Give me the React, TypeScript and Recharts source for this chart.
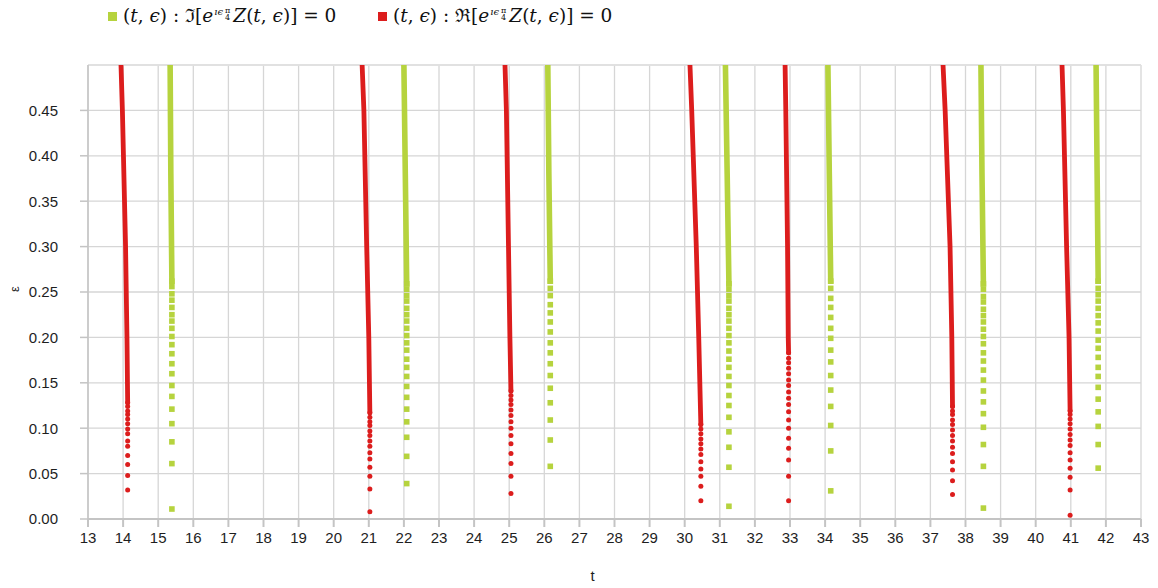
import { ScatterChart, Scatter, XAxis, YAxis, CartesianGrid, ReferenceLine } from 'recharts'

const RED = '#dc1d1d'
const GREEN = '#b6d33e'

const tTicks = [13, 14, 15, 16, 17, 18, 19, 20, 21, 22, 23, 24, 25, 26, 27, 28, 29, 30, 31, 32, 33, 34, 35, 36, 37, 38, 39, 40, 41, 42, 43]
const epsTicks = [0, 0.05, 0.1, 0.15, 0.2, 0.25, 0.3, 0.35, 0.4, 0.45]

// Re = 0 branches (red): t of the sparse dots near the bottom, and their ε values
const redBottomT = [14.13, 21.03, 25.05, 30.46, 32.96, 37.63, 40.98]
const redDotEps = [
  [0.032, 0.048, 0.06, 0.07, 0.08, 0.086, 0.094, 0.099, 0.105, 0.11, 0.115, 0.119, 0.124, 0.128],
  [0.008, 0.033, 0.047, 0.057, 0.066, 0.073, 0.08, 0.086, 0.092, 0.097, 0.103, 0.107, 0.112, 0.117],
  [0.028, 0.047, 0.061, 0.072, 0.083, 0.092, 0.1, 0.107, 0.114, 0.12, 0.126, 0.131, 0.136, 0.141],
  [0.02, 0.036, 0.047, 0.055, 0.063, 0.071, 0.077, 0.083, 0.088, 0.094, 0.099, 0.104],
  [0.02, 0.047, 0.065, 0.078, 0.089, 0.1, 0.109, 0.118, 0.126, 0.133, 0.14, 0.147, 0.153, 0.16, 0.166, 0.172, 0.177, 0.183],
  [0.027, 0.042, 0.054, 0.063, 0.072, 0.079, 0.086, 0.092, 0.098, 0.104, 0.109, 0.115, 0.119, 0.124],
  [0.004, 0.032, 0.046, 0.056, 0.065, 0.073, 0.081, 0.087, 0.093, 0.099, 0.105, 0.11, 0.115, 0.119],
]
// dense part of each red branch, where the dots merge: [t, ε]
const redDense = [
  [[14.13, 0.128], [14.11, 0.2], [14.07, 0.3], [13.98, 0.45], [13.94, 0.5]],
  [[21.03, 0.117], [21.0, 0.2], [20.94, 0.3], [20.86, 0.45], [20.81, 0.5]],
  [[25.05, 0.141], [25.02, 0.2], [24.98, 0.3], [24.92, 0.45], [24.88, 0.5]],
  [[30.46, 0.104], [30.4, 0.2], [30.33, 0.3], [30.2, 0.45], [30.15, 0.5]],
  [[32.96, 0.183], [32.95, 0.2], [32.93, 0.3], [32.88, 0.45], [32.86, 0.5]],
  [[37.63, 0.124], [37.61, 0.2], [37.56, 0.3], [37.42, 0.45], [37.36, 0.5]],
  [[40.98, 0.119], [40.95, 0.2], [40.88, 0.3], [40.79, 0.45], [40.75, 0.5]],
]

// Im = 0 branches (green)
const greenBottomT = [15.39, 22.08, 26.17, 31.26, 34.16, 38.51, 41.78]
const greenDotEps = [
  [0.011, 0.061, 0.085, 0.105, 0.121, 0.135, 0.147, 0.16, 0.171, 0.182, 0.192, 0.201, 0.21, 0.218, 0.225, 0.233, 0.241, 0.248, 0.256, 0.262],
  [0.039, 0.069, 0.09, 0.107, 0.121, 0.134, 0.146, 0.157, 0.167, 0.176, 0.186, 0.194, 0.202, 0.21, 0.218, 0.225, 0.232, 0.24, 0.246, 0.253, 0.259],
  [0.058, 0.087, 0.109, 0.128, 0.144, 0.158, 0.171, 0.183, 0.194, 0.206, 0.217, 0.227, 0.236, 0.246, 0.254, 0.262],
  [0.014, 0.057, 0.079, 0.096, 0.112, 0.125, 0.136, 0.147, 0.157, 0.167, 0.176, 0.185, 0.194, 0.202, 0.21, 0.218, 0.225, 0.232, 0.24, 0.246, 0.253, 0.259],
  [0.031, 0.075, 0.103, 0.124, 0.142, 0.158, 0.173, 0.186, 0.199, 0.21, 0.222, 0.233, 0.243, 0.254, 0.262],
  [0.012, 0.058, 0.082, 0.101, 0.116, 0.129, 0.141, 0.153, 0.164, 0.174, 0.183, 0.193, 0.201, 0.209, 0.217, 0.224, 0.231, 0.239, 0.245, 0.253, 0.259],
  [0.056, 0.082, 0.102, 0.118, 0.132, 0.145, 0.157, 0.167, 0.178, 0.188, 0.197, 0.207, 0.216, 0.224, 0.232, 0.24, 0.247, 0.254, 0.262],
]
const greenDense = [
  [[15.39, 0.262], [15.36, 0.38], [15.34, 0.5]],
  [[22.08, 0.259], [22.04, 0.38], [22.0, 0.5]],
  [[26.17, 0.262], [26.13, 0.38], [26.1, 0.5]],
  [[31.26, 0.259], [31.21, 0.38], [31.16, 0.5]],
  [[34.16, 0.262], [34.12, 0.38], [34.08, 0.5]],
  [[38.51, 0.259], [38.47, 0.38], [38.44, 0.5]],
  [[41.78, 0.262], [41.75, 0.38], [41.72, 0.5]],
]

const toDots = (t: number, eps: number[]) => eps.map((e) => ({ t, eps: e }))
const toPath = (pts: number[][]) => pts.map(([t, e]) => ({ t, eps: e }))

const RedDot = (p: any) => <circle cx={p.cx} cy={p.cy} r={2.5} fill={RED} />
const GreenDot = (p: any) => <rect x={p.cx - 2.8} y={p.cy - 2.8} width={5.6} height={5.6} fill={GREEN} />
const NoDot = () => <g />

const axisTick = { fontSize: 15, fill: '#1e1e1e', fontFamily: '"Liberation Sans", Arial, sans-serif' }

function LegendText({ op }: { op: string }) {
  return (
    <span style={{ display: 'inline-flex', alignItems: 'center', lineHeight: 1 }}>
      <span>
        (<i>t</i>, <i>ϵ</i>) : {op}[<i>e</i>
      </span>
      <span style={{ display: 'inline-flex', alignItems: 'flex-start', alignSelf: 'flex-start', fontSize: 10, margin: '0 3px 0 1px' }}>
        <i>ıϵ</i>
        <span style={{ display: 'inline-flex', flexDirection: 'column', alignItems: 'center', fontSize: 8, lineHeight: 0.9, marginLeft: 2 }}>
          <span>π</span>
          <span>4</span>
        </span>
      </span>
      <span>
        <i>Z</i>(<i>t</i>, <i>ϵ</i>)] = 0
      </span>
    </span>
  )
}

const legendItem = {
  position: 'absolute' as const,
  top: -4,
  height: 24,
  display: 'flex',
  alignItems: 'center',
  fontFamily: '"DejaVu Serif", "Liberation Serif", serif',
  fontSize: 18.5,
  color: '#111',
  whiteSpace: 'nowrap' as const,
}

export default function App() {
  return (
    <div style={{ position: 'relative', width: 1150, height: 580 }}>
      <div style={{ ...legendItem, left: 100 }}>
        <span style={{ width: 9, height: 9, background: GREEN, marginRight: 6, display: 'inline-block' }} />
        <LegendText op="ℑ" />
      </div>
      <div style={{ ...legendItem, left: 370 }}>
        <span style={{ width: 9, height: 9, background: RED, marginRight: 6, display: 'inline-block' }} />
        <LegendText op="ℜ" />
      </div>
      <ScatterChart width={1150} height={580} margin={{ top: 57, right: 17, bottom: 5, left: 0 }}>
        <CartesianGrid stroke="#d6d6d6" strokeWidth={1.3} />
        <ReferenceLine y={0.5} stroke="#e2e2e2" strokeWidth={1.3} />
        <XAxis
          type="number"
          dataKey="t"
          domain={[13, 43]}
          ticks={tTicks}
          interval={0}
          allowDataOverflow
          height={64}
          tick={axisTick}
          tickSize={8}
          tickMargin={5}
          stroke="#c4c4c4"
          strokeWidth={2}
          label={{ value: 't', position: 'insideBottom', offset: 2, dx: -22, fontSize: 15, fill: '#1e1e1e', fontFamily: '"Liberation Sans", Arial, sans-serif' }}
        />
        <YAxis
          type="number"
          dataKey="eps"
          domain={[0, 0.5]}
          ticks={epsTicks}
          interval={0}
          allowDataOverflow
          width={80}
          tick={axisTick}
          tickSize={8}
          tickMargin={22}
          stroke="#c4c4c4"
          strokeWidth={1.5}
          tickFormatter={(v: number) => v.toFixed(2)}
          label={{ value: 'ε', angle: -90, position: 'insideLeft', offset: 0, dx: 6, fontSize: 13, fill: '#1e1e1e', fontFamily: '"Liberation Sans", Arial, sans-serif' }}
        />
        {greenDense.map((pts, i) => (
          <Scatter
            key={`gl${i}`}
            data={toPath(pts)}
            fill={GREEN}
            shape={NoDot}
            line={{ stroke: GREEN, strokeWidth: 5.6, strokeLinecap: 'square' }}
            lineType="joint"
            isAnimationActive={false}
          />
        ))}
        {greenDotEps.map((eps, i) => (
          <Scatter key={`gd${i}`} data={toDots(greenBottomT[i], eps)} fill={GREEN} shape={GreenDot} isAnimationActive={false} />
        ))}
        {redDense.map((pts, i) => (
          <Scatter
            key={`rl${i}`}
            data={toPath(pts)}
            fill={RED}
            shape={NoDot}
            line={{ stroke: RED, strokeWidth: 4.8, strokeLinecap: 'round' }}
            lineType="joint"
            isAnimationActive={false}
          />
        ))}
        {redDotEps.map((eps, i) => (
          <Scatter key={`rd${i}`} data={toDots(redBottomT[i], eps)} fill={RED} shape={RedDot} isAnimationActive={false} />
        ))}
      </ScatterChart>
    </div>
  )
}
